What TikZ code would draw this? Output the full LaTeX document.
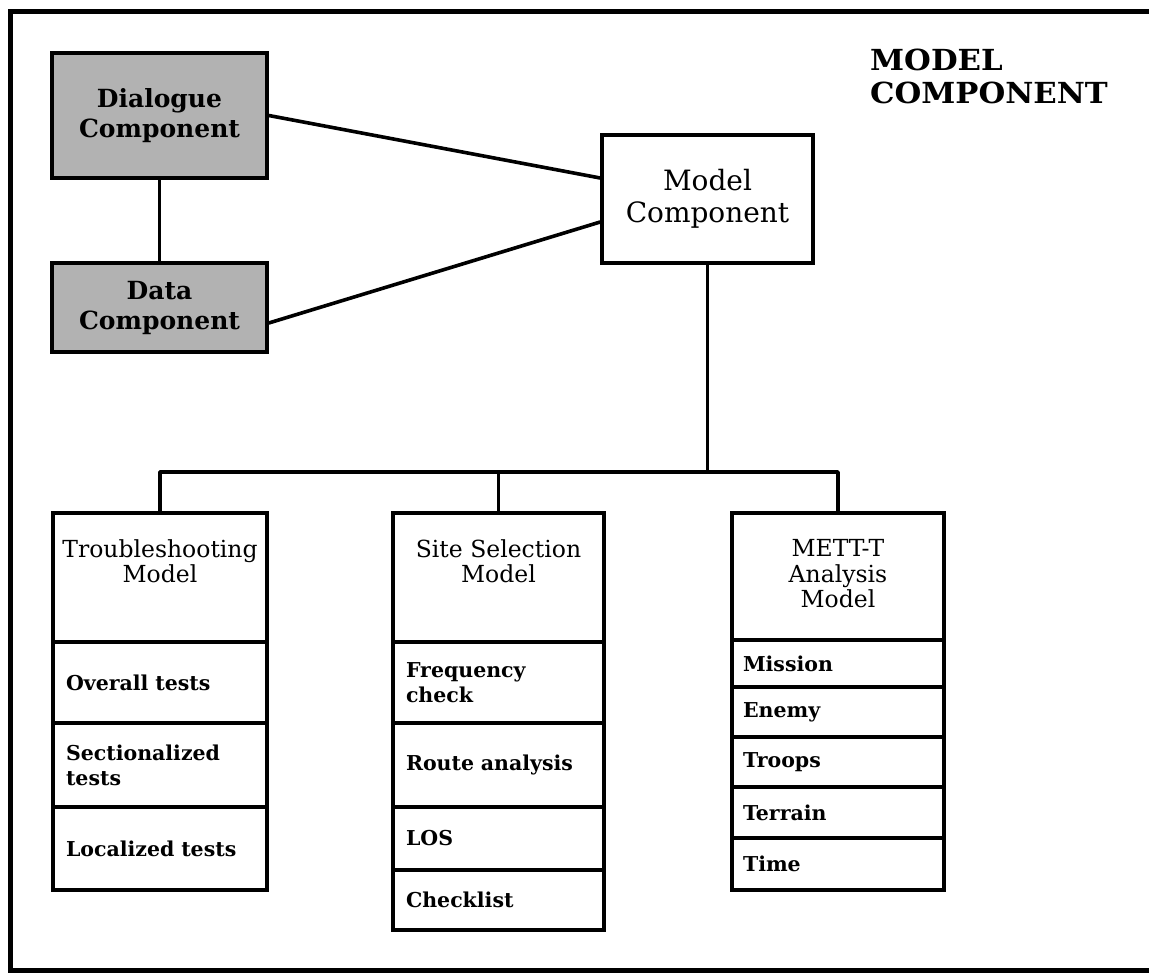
\documentclass[tikz,border=0pt]{standalone}
\usepackage{fontspec}
\setmainfont{DejaVu Serif}
\newcommand\hdrfont{\fontsize{23.5}{25.5}\selectfont}
\newcommand\rowfont{\bfseries\fontsize{20.5}{25}\selectfont}
\newcommand\dlgfont{\bfseries\fontsize{25}{30}\selectfont}
\newcommand\mdlfont{\fontsize{28}{32}\selectfont}
\newcommand\ttlfont{\bfseries\fontsize{29}{33}\selectfont}
\begin{document}
\begin{tikzpicture}[x=1pt,y=-1pt,
  box/.style={draw, line width=3.6pt, inner sep=0pt},
  conn/.style={line width=3.6pt, line cap=round, line join=round},
  frame/.style={line width=5pt, line join=miter},
  shaded/.style={box, fill=black!30, font=\dlgfont, align=center},
  hdr/.style={box},
  hdrtext/.style={anchor=north, align=center, inner sep=0pt, font=\hdrfont},
  row/.style={box, font=\rowfont, align=left, inner xsep=13pt},
  tsrow/.style={row, text width=188pt},
  ssrow/.style={row, text width=185pt},
  mtrow/.style={row, inner xsep=11pt, text width=190pt},
]
\useasboundingbox (0,0) rectangle (1149,974);
\draw[frame] (1160,12) -- (10,12) -- (10,970) -- (1160,970);

% title
\node[anchor=north west, align=left, inner sep=0pt, font=\ttlfont] (title) at (870,49) {\scalebox{1.06}[1]{MODEL}\\\scalebox{1.06}[1]{COMPONENT}};

% upper boxes
\node[shaded, minimum width=215pt, minimum height=125pt] (dlg) at (159.5,115.5) {Dialogue\\Component};
\node[shaded, minimum width=215pt, minimum height=89pt] (dat) at (159.5,307.5) {Data\\Component};
\node[box, minimum width=211pt, minimum height=128pt, font=\mdlfont, align=center] (mdl) at (707.5,199) {Model\\Component};

\draw[conn] (dlg.south) -- (dat.north);
\draw[conn] (dlg.east) -- ([yshift=21pt]mdl.west);
\draw[conn] ([yshift=-15.5pt]dat.east) -- ([yshift=-23pt]mdl.west);

% troubleshooting column
\node[hdr, minimum width=214pt, minimum height=129pt] (tsh) at (160,577.5) {};
\node[hdrtext] (tsht) at ([yshift=-28pt]tsh.north) {Troubleshooting\\Model};
\node[tsrow, minimum height=81pt] (ts1) at (160,682.5) {Overall tests};
\node[tsrow, minimum height=84pt] (ts2) at (160,765) {Sectionalized\\tests};
\node[tsrow, minimum height=83pt] (ts3) at (160,848.5) {Localized tests};

% site selection column
\node[hdr, minimum width=211pt, minimum height=129pt] (ssh) at (498.5,577.5) {};
\node[hdrtext] (ssht) at ([yshift=-28pt]ssh.north) {Site Selection\\Model};
\node[ssrow, minimum height=81pt] (ss1) at (498.5,682.5) {Frequency\\check};
\node[ssrow, minimum height=84pt] (ss2) at (498.5,765) {Route analysis};
\node[ssrow, minimum height=63pt] (ss3) at (498.5,838.5) {LOS};
\node[ssrow, minimum height=60pt] (ss4) at (498.5,900) {Checklist};

% METT-T column
\node[hdr, minimum width=212pt, minimum height=127pt] (mth) at (838,576.5) {};
\node[hdrtext] (mtht) at ([yshift=-28pt]mth.north) {METT-T\\Analysis\\Model};
\node[mtrow, minimum height=47pt] (mt1) at (838,663.5) {Mission};
\node[mtrow, minimum height=50pt] (mt2) at (838,712) {Enemy};
\node[mtrow, minimum height=50pt] (mt3) at (838,762) {Troops};
\node[mtrow, minimum height=51pt] (mt4) at (838,812.5) {Terrain};
\node[mtrow, minimum height=52pt] (mt5) at (838,864) {Time};

% bus
\coordinate (bus) at (0,472);
\draw[conn] (mdl.south) -- (mdl.south |- bus);
\draw[conn] (tsh.north) -- (tsh.north |- bus) -- (mth.north |- bus) -- (mth.north);
\draw[conn] (ssh.north) -- (ssh.north |- bus);
\end{tikzpicture}
\end{document}
